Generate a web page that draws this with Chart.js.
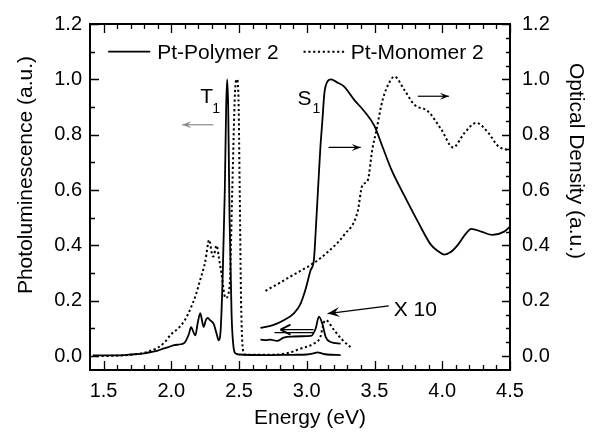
<!DOCTYPE html>
<html>
<head>
<meta charset="utf-8">
<script src="https://cdn.jsdelivr.net/npm/chart.js@4/dist/chart.umd.min.js"></script>
<style>
html,body{margin:0;padding:0;background:#fff;}
#wrap{width:594px;height:432px;position:relative;}
</style>
</head>
<body>
<div id="wrap"><canvas id="c" width="594" height="432"></canvas></div>
<script>
// ---- data ----
const energyTicks = [1.5, 2.0, 2.5, 3.0, 3.5, 4.0, 4.5];
const intensityTicks = [0.0, 0.2, 0.4, 0.6, 0.8, 1.0, 1.2];
const seriesNames = ['Pt-Polymer 2', 'Pt-Monomer 2'];

// Pt-Polymer 2 photoluminescence (left axis)
const polyPL_E = [1.42,1.6,1.7,1.8,1.85,1.9,1.94,1.98,2.02,2.07,2.10,2.13,2.146,2.165,2.178,2.195,2.214,2.23,2.239,2.255,2.269,2.288,2.313,2.335,2.35,2.365,2.38,2.395,2.405,2.412,2.42,2.43,2.445,2.46,2.475,2.5,2.7,2.9,3.0,3.05,3.08,3.11,3.15,3.25];
const polyPL_I = [0.003,0.003,0.006,0.01,0.015,0.02,0.027,0.033,0.04,0.043,0.05,0.08,0.105,0.085,0.075,0.12,0.155,0.12,0.105,0.13,0.138,0.129,0.117,0.08,0.057,0.1,0.3,0.6,0.9,1.0,0.9,0.5,0.15,0.03,0.01,0.006,0.004,0.005,0.006,0.01,0.014,0.01,0.006,0.004];

// Pt-Polymer 2 photoluminescence x10 (left axis)
const polyPLx10_E = [2.658,2.70,2.73,2.78,2.83,2.905,2.96,3.03,3.065,3.09,3.115,3.14,3.176,3.25];
const polyPLx10_I = [0.06,0.058,0.06,0.055,0.067,0.071,0.072,0.073,0.099,0.143,0.117,0.069,0.051,0.045];

// Pt-Monomer 2 photoluminescence (left axis)
const monoPL_E = [1.45,1.6,1.7,1.8,1.85,1.9,1.95,2.0,2.05,2.1,2.14,2.18,2.21,2.25,2.28,2.30,2.31,2.335,2.35,2.37,2.40,2.43,2.45,2.47,2.484,2.495,2.505,2.515,2.53,2.55,2.7,2.85,2.954,3.05,3.1,3.125,3.14,3.2,3.26,3.33];
const monoPL_I = [0.0,0.002,0.005,0.012,0.02,0.03,0.05,0.08,0.1,0.13,0.17,0.22,0.27,0.34,0.42,0.37,0.36,0.40,0.36,0.30,0.21,0.25,0.6,0.95,1.0,0.95,0.6,0.2,0.02,0.005,0.005,0.01,0.027,0.045,0.069,0.12,0.13,0.095,0.06,0.03];

// Pt-Polymer 2 optical density (right axis)
const polyOD_E = [2.658,2.75,2.83,2.905,2.95,2.99,3.028,3.053,3.068,3.085,3.10,3.115,3.13,3.15,3.18,3.22,3.276,3.35,3.424,3.5,3.561,3.623,3.72,3.82,3.917,3.97,4.016,4.06,4.115,4.17,4.214,4.288,4.37,4.457,4.5];
const polyOD_I = [0.102,0.112,0.13,0.155,0.185,0.24,0.31,0.35,0.47,0.62,0.75,0.85,0.95,0.99,1.0,0.99,0.974,0.926,0.885,0.831,0.754,0.676,0.58,0.486,0.402,0.379,0.367,0.375,0.402,0.44,0.46,0.45,0.438,0.45,0.468];

// Pt-Monomer 2 optical density (right axis)
const monoOD_E = [2.695,2.80,2.905,3.053,3.152,3.276,3.375,3.41,3.45,3.484,3.51,3.56,3.62,3.647,3.72,3.795,3.894,3.993,4.08,4.165,4.25,4.34,4.41,4.5];
const monoOD_I = [0.236,0.265,0.295,0.337,0.375,0.438,0.521,0.617,0.635,0.748,0.807,0.926,0.998,1.01,0.962,0.908,0.885,0.819,0.754,0.807,0.843,0.807,0.76,0.742];

// ---- helpers ----
const pts = (E, I) => E.map((x, i) => ({x: x, y: I[i]}));
const FONT = '"Liberation Sans", Arial, Helvetica, sans-serif';

const solid = {borderColor:'#000', borderWidth:1.8, pointRadius:0, showLine:true, fill:false, cubicInterpolationMode:'monotone'};
const dotted = Object.assign({}, solid, {borderDash:[2.2,2.6], borderWidth:2});

// annotation layout (in data units)
const labels = [
  {t:'T', x:2.214, y:0.914, s:21},
  {t:'1', x:2.303, y:0.879, s:14},
  {t:'S', x:2.932, y:0.907, s:21},
  {t:'1', x:3.043, y:0.879, s:14},
  {t:'X 10', x:3.642, y:0.146, s:21}
];
const arrows = [
  {x1:2.311, y1:0.836, x2:2.081, y2:0.836, color:'#8a8a8a', head:'thin'},
  {x1:3.161, y1:0.754, x2:3.398, y2:0.754, color:'#000', head:'thin'},
  {x1:3.820, y1:0.939, x2:4.049, y2:0.939, color:'#000', head:'thin'},
  {x1:3.605, y1:0.182, x2:3.154, y2:0.154, color:'#000', head:'filled'},
  {x1:3.050, y1:0.096, x2:2.806, y2:0.096, color:'#000', head:'open'}
];

function drawArrow(ctx, a, b, c, d, color, head) {
  ctx.save();
  ctx.strokeStyle = color; ctx.fillStyle = color;
  ctx.lineWidth = 1.2;
  const ang = Math.atan2(d - b, c - a);
  ctx.beginPath(); ctx.moveTo(a, b); ctx.lineTo(c, d); ctx.stroke();
  let L = 9, W = 3.5;
  if (head === 'filled') { L = 12; W = 5; }
  if (head === 'open') { L = 10; W = 5; }
  const bx = c - L * Math.cos(ang), by = d - L * Math.sin(ang);
  const nx = -Math.sin(ang), ny = Math.cos(ang);
  ctx.beginPath();
  ctx.moveTo(c, d);
  ctx.lineTo(bx + nx * W, by + ny * W);
  if (head === 'open') {
    ctx.moveTo(c, d);
    ctx.lineTo(bx - nx * W, by - ny * W);
    ctx.lineWidth = 1.8;
    ctx.stroke();
    // second shaft line
    ctx.beginPath();
    ctx.lineWidth = 1.2;
    ctx.moveTo(a, b + 3); ctx.lineTo(c + 6 * Math.cos(ang), d + 3);
    ctx.stroke();
  } else {
    ctx.lineTo(c - (L * 0.6) * Math.cos(ang), d - (L * 0.6) * Math.sin(ang));
    ctx.lineTo(bx - nx * W, by - ny * W);
    ctx.closePath();
    ctx.fill();
  }
  ctx.restore();
}

const decor = {
  id: 'decor',
  afterDraw(chart) {
    const ctx = chart.ctx;
    const xs = chart.scales.x, ys = chart.scales.y, ys2 = chart.scales.y2;
    const A = chart.chartArea;
    const X = v => xs.getPixelForValue(v), Y = v => ys.getPixelForValue(v);
    ctx.save();
    ctx.strokeStyle = '#000';
    // tick marks (inward)
    ctx.lineWidth = 1.3;
    ctx.beginPath();
    for (let k = 15; k <= 45; k++) {
      const v = k / 10, px = Math.round(X(v)) + 0.5;
      const len = (k % 5 === 0) ? 9 : 5;
      ctx.moveTo(px, A.bottom); ctx.lineTo(px, A.bottom - len);
      ctx.moveTo(px, A.top); ctx.lineTo(px, A.top + len);
    }
    for (let k = 0; k <= 12; k++) {
      const py = Math.round(Y(k / 10)) + 0.5;
      const len = (k % 2 === 0) ? 9 : 5;
      ctx.moveTo(A.left, py); ctx.lineTo(A.left + len, py);
    }
    for (let k = 0; k <= 24; k++) {
      const py = Math.round(ys2.getPixelForValue(k / 20)) + 0.5;
      const len = (k % 4 === 0) ? 8 : 4;
      ctx.moveTo(A.right, py); ctx.lineTo(A.right - len, py);
    }
    ctx.stroke();
    // frame
    ctx.lineWidth = 2;
    ctx.strokeRect(A.left, A.top, A.right - A.left, A.bottom - A.top);

    // axis titles
    ctx.fillStyle = '#000';
    ctx.font = '21px ' + FONT;
    ctx.textAlign = 'center'; ctx.textBaseline = 'alphabetic';
    ctx.fillText('Energy (eV)', 310, 424);
    ctx.save();
    ctx.translate(32, 175); ctx.rotate(-Math.PI / 2);
    ctx.fillText('Photoluminescence (a.u.)', 0, 0);
    ctx.restore();
    ctx.save();
    ctx.translate(570, 161); ctx.rotate(Math.PI / 2);
    ctx.fillText('Optical Density (a.u.)', 0, 0);
    ctx.restore();

    // legend
    ctx.textAlign = 'left';
    ctx.font = '21px ' + FONT;
    ctx.lineWidth = 1.8;
    ctx.beginPath(); ctx.moveTo(X(1.534), Y(1.1)); ctx.lineTo(X(1.845), Y(1.1)); ctx.stroke();
    ctx.fillText(seriesNames[0], X(1.896), Y(1.075));
    ctx.setLineDash([2.2, 2.6]);
    ctx.lineWidth = 2;
    ctx.beginPath(); ctx.moveTo(X(2.976), Y(1.1)); ctx.lineTo(X(3.287), Y(1.1)); ctx.stroke();
    ctx.setLineDash([]);
    ctx.fillText(seriesNames[1], X(3.324), Y(1.075));

    // labels
    labels.forEach(l => {
      ctx.font = l.s + 'px ' + FONT;
      ctx.fillText(l.t, X(l.x), Y(l.y));
    });
    // arrows
    arrows.forEach(a => drawArrow(ctx, X(a.x1), Y(a.y1), X(a.x2), Y(a.y2), a.color, a.head));
    ctx.restore();
  }
};

const tickFont = {family: FONT, size: 20};
const yCommon = {
  type: 'linear', min: -0.05, max: 1.2,
  grid: {display: false, drawTicks: false},
  border: {display: false},
  afterBuildTicks: s => { s.ticks = intensityTicks.map(v => ({value: v})); },
  ticks: {color: '#000', font: tickFont, callback: v => Number(v).toFixed(1)}
};

new Chart(document.getElementById('c'), {
  type: 'scatter',
  data: {
    datasets: [
      Object.assign({label: seriesNames[0] + ' PL', data: pts(polyPL_E, polyPL_I), yAxisID: 'y'}, solid),
      Object.assign({label: seriesNames[0] + ' PL x10', data: pts(polyPLx10_E, polyPLx10_I), yAxisID: 'y'}, solid),
      Object.assign({label: seriesNames[1] + ' PL', data: pts(monoPL_E, monoPL_I), yAxisID: 'y'}, dotted),
      Object.assign({label: seriesNames[0] + ' OD', data: pts(polyOD_E, polyOD_I), yAxisID: 'y2'}, solid),
      Object.assign({label: seriesNames[1] + ' OD', data: pts(monoOD_E, monoOD_I), yAxisID: 'y2'}, dotted)
    ]
  },
  options: {
    responsive: false,
    devicePixelRatio: 1,
    animation: false,
    layout: {padding: {top: 20, left: 0, right: 0, bottom: 0}},
    plugins: {legend: {display: false}, tooltip: {enabled: false}},
    scales: {
      x: {
        type: 'linear', min: 1.4, max: 4.5, position: 'bottom',
        grid: {display: false, drawTicks: false},
        border: {display: false},
        afterBuildTicks: s => { s.ticks = energyTicks.map(v => ({value: v})); },
        afterFit: s => { s.height = 62; },
        ticks: {color: '#000', font: tickFont, padding: 9, maxRotation: 0, callback: v => Number(v).toFixed(1)}
      },
      y: Object.assign({}, yCommon, {position: 'left', afterFit: s => { s.width = 90; }, ticks: Object.assign({}, yCommon.ticks, {padding: 8})}),
      y2: Object.assign({}, yCommon, {position: 'right', afterFit: s => { s.width = 84; }, ticks: Object.assign({}, yCommon.ticks, {padding: 12})})
    }
  },
  plugins: [decor]
});
</script>
</body>
</html>
